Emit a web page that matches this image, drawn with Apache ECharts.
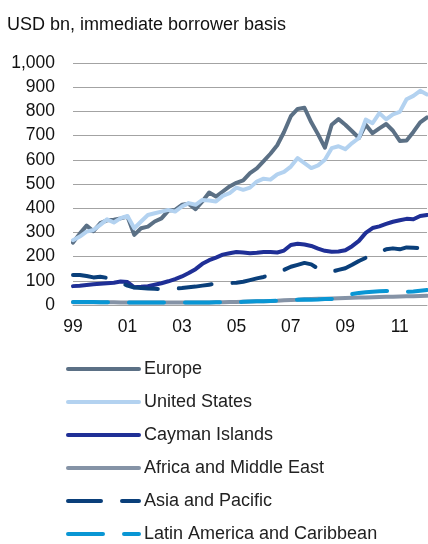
<!DOCTYPE html>
<html>
<head>
<meta charset="utf-8">
<script src="https://cdn.jsdelivr.net/npm/echarts@6/dist/echarts.min.js"></script>
<style>
  html, body { margin: 0; padding: 0; background: #fff; }
  #chart { width: 428px; height: 544px; }
</style>
</head>
<body>
<div id="chart"></div>
<script>
// quarterly, Q1 1999 .. Q1 2012
const categories = [
  '99Q1','99Q2','99Q3','99Q4','00Q1','00Q2','00Q3','00Q4',
  '01Q1','01Q2','01Q3','01Q4','02Q1','02Q2','02Q3','02Q4',
  '03Q1','03Q2','03Q3','03Q4','04Q1','04Q2','04Q3','04Q4',
  '05Q1','05Q2','05Q3','05Q4','06Q1','06Q2','06Q3','06Q4',
  '07Q1','07Q2','07Q3','07Q4','08Q1','08Q2','08Q3','08Q4',
  '09Q1','09Q2','09Q3','09Q4','10Q1','10Q2','10Q3','10Q4',
  '11Q1','11Q2','11Q3','11Q4','12Q1'
]
const xTickLabels = ['99', '01', '03', '05', '07', '09', '11']

const europe = [258, 295, 328, 305, 338, 350, 352, 358, 365, 290, 317, 324, 345, 358, 390, 393, 414, 418, 396, 428, 465, 448, 469, 490, 505, 515, 545, 565, 595, 625, 660, 715, 780, 810, 815, 755, 705, 650, 745, 768, 745, 718, 690, 745, 710, 730, 748, 720, 678, 680, 715, 755, 775]
const unitedStates = [268, 283, 303, 310, 331, 354, 341, 359, 368, 317, 345, 372, 379, 386, 393, 386, 407, 421, 414, 434, 432, 428, 451, 462, 485, 476, 485, 510, 522, 518, 540, 550, 572, 607, 586, 566, 577, 600, 648, 656, 644, 669, 690, 766, 751, 793, 767, 788, 798, 850, 864, 885, 870]
const cayman = [78, 80, 83, 86, 88, 90, 92, 97, 95, 73, 75, 78, 84, 90, 98, 107, 118, 132, 148, 170, 185, 196, 208, 214, 219, 217, 214, 216, 219, 219, 217, 225, 248, 253, 250, 244, 233, 224, 220, 221, 226, 243, 265, 298, 318, 325, 335, 344, 350, 356, 354, 368, 372]
const africaME = [11, 11, 11, 11, 11, 11, 11, 10, 10, 10, 10, 10, 10, 10, 10, 10, 10, 10, 10, 10, 10, 11, 11, 12, 12, 13, 14, 15, 16, 17, 18, 20, 21, 22, 24, 25, 26, 26, 27, 28, 29, 30, 31, 31, 32, 33, 34, 34, 35, 36, 36, 37, 38]
const asiaPacific = [124, 124, 120, 114, 117, 112, 105, 92, 80, 72, 70, 68, 67, 66, 66, 68, 70, 73, 76, 80, 84, 88, 90, 91, 92, 96, 103, 110, 116, 126, 132, 145, 158, 166, 174, 168, 150, 138, 138, 145, 152, 166, 182, 195, 205, 220, 230, 234, 230, 238, 237, 235, 236]
const latinAm = [12, 12, 12, 12, 11, 11, 11, 11, 11, 10, 10, 10, 10, 10, 10, 10, 10, 10, 10, 10, 10, 11, 11, 12, 12, 13, 14, 15, 16, 17, 18, 20, 21, 22, 23, 22, 23, 25, 25, 28, 35, 45, 50, 53, 55, 57, 58, 59, 55, 55, 56, 59, 62]

const font = 'Liberation Sans, Arial, sans-serif'

function line(name, data, color, dash) {
  return {
    name: name,
    type: 'line',
    data: data,
    symbol: 'none',
    lineStyle: { color: color, width: 4, type: dash || 'solid', cap: 'round', join: 'round' },
    itemStyle: { color: color }
  }
}

const chart = echarts.init(document.getElementById('chart'))
chart.setOption({
  animation: false,
  textStyle: { fontFamily: font },
  title: {
    text: 'USD bn, immediate borrower basis',
    left: 7,
    top: 16,
    padding: 0,
    textStyle: { fontFamily: font, fontSize: 18, fontWeight: 'normal', color: '#111' }
  },
  grid: { left: 73, right: 1, top: 63, bottom: 239 },
  xAxis: {
    type: 'category',
    data: categories,
    boundaryGap: false,
    axisTick: { show: false },
    axisLine: { lineStyle: { color: '#a3a3a3', width: 1 } },
    axisLabel: {
      interval: function (i) { return i % 8 === 0 },
      formatter: function (v, i) { return xTickLabels[i / 8] },
      color: '#111',
      fontSize: 17.5,
      margin: 13,
      fontFamily: font
    }
  },
  yAxis: {
    type: 'value',
    min: 0,
    max: 1000,
    interval: 100,
    axisLine: { show: false },
    axisTick: { show: false },
    splitLine: { lineStyle: { color: '#a3a3a3', width: 1 } },
    axisLabel: {
      formatter: function (v) { return v >= 1000 ? '1,000' : String(v) },
      color: '#111',
      fontSize: 17.5,
      margin: 18,
      fontFamily: font
    }
  },
  legend: {
    orient: 'vertical',
    left: 66,
    top: 360,
    padding: 0,
    itemWidth: 71,
    itemHeight: 14,
    itemGap: 15,
    itemStyle: { opacity: 0 },
    lineStyle: { width: 4 },
    textStyle: { fontFamily: font, fontSize: 18, lineHeight: 18, color: '#222' }
  },
  series: [
    line('Europe', europe, '#5b7085'),
    line('United States', unitedStates, '#b3d2f0'),
    line('Cayman Islands', cayman, '#1f2f96'),
    line('Africa and Middle East', africaME, '#8593a6'),
    line('Asia and Pacific', asiaPacific, '#0a3f7a', [33, 21]),
    line('Latin America and Caribbean', latinAm, '#0996d4', [35, 21])
  ]
})
</script>
</body>
</html>
